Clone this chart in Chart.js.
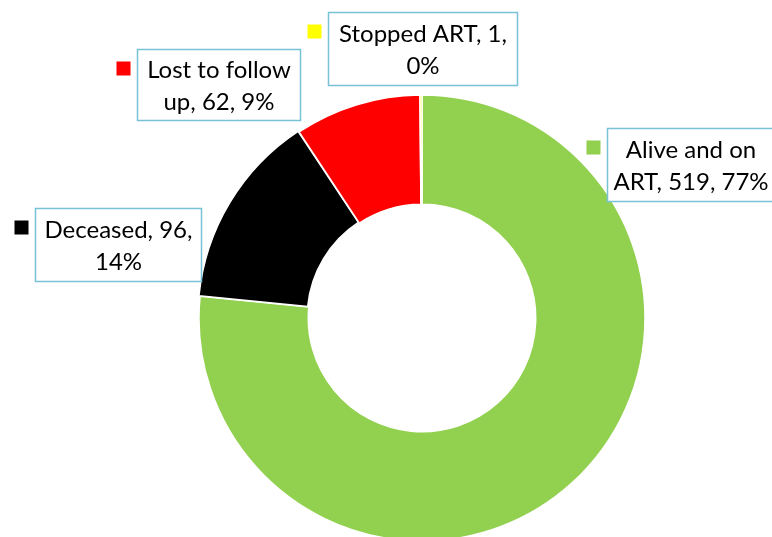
<!DOCTYPE html>
<html>
<head>
<meta charset="utf-8">
<script src="https://cdn.jsdelivr.net/npm/chart.js@4/dist/chart.umd.min.js"></script>
<style>
  html, body { margin: 0; padding: 0; background: #fff; }
  canvas { display: block; }
</style>
</head>
<body>
<canvas id="artChart" width="772" height="537"></canvas>
<script>
// Data
const outcomeLabels = ['Alive and on ART', 'Deceased', 'Lost to follow up', 'Stopped ART'];
const outcomeCounts = [519, 96, 62, 1];
const outcomeColors = ['#92D050', '#000000', '#FF0000', '#FFFF00'];

// callout box placement (x, y, w, h) for each slice
const calloutBoxes = [
    { x: 607.5, y: 128.5, w: 167, h: 73 },
    { x: 35.5,  y: 208.5, w: 166, h: 73 },
    { x: 137.5, y: 49.5,  w: 163, h: 71 },
    { x: 328.5, y: 12.5,  w: 189, h: 73 }
];

const total = outcomeCounts.reduce((a, b) => a + b, 0);

// word wrap helper
function wrapText(ctx, text, maxWidth) {
    const words = text.split(' ');
    const lines = [];
    let line = '';
    words.forEach(w => {
        const test = line ? line + ' ' + w : w;
        if (ctx.measureText(test).width > maxWidth && line) {
            lines.push(line);
            line = w;
        } else {
            line = test;
        }
    });
    if (line) lines.push(line);
    return lines;
}

// draws the boxed data labels with their colour keys
const calloutPlugin = {
    id: 'callouts',
    afterDraw(chart) {
        const ctx = chart.ctx;
        ctx.save();
        ctx.font = '24px Lato';
        ctx.textAlign = 'center';
        ctx.textBaseline = 'alphabetic';
        outcomeLabels.forEach((label, i) => {
            const b = calloutBoxes[i];
            const pct = Math.round(outcomeCounts[i] / total * 100);
            const text = label + ', ' + outcomeCounts[i] + ', ' + pct + '%';

            ctx.fillStyle = '#ffffff';
            ctx.fillRect(b.x, b.y, b.w, b.h);
            ctx.strokeStyle = '#78C2D6';
            ctx.lineWidth = 1.5;
            ctx.strokeRect(b.x, b.y, b.w, b.h);

            // legend key
            ctx.fillStyle = outcomeColors[i];
            ctx.fillRect(b.x - 21, b.y + 12, 14, 14);

            const lines = wrapText(ctx, text, b.w - 10);
            ctx.fillStyle = '#000000';
            const lineH = 32;
            const startY = b.y + b.h / 2 - (lines.length - 1) * lineH / 2 + 9;
            lines.forEach((ln, k) => {
                ctx.fillText(ln, b.x + b.w / 2, startY + k * lineH);
            });
        });
        ctx.restore();
    }
};

const myChart = new Chart('artChart', {
    type: 'doughnut',
    data: {
        labels: outcomeLabels,
        datasets: [{
            data: outcomeCounts,
            backgroundColor: outcomeColors,
            borderColor: '#ffffff',
            borderWidth: 1.5,
            offset: [0, 4, 0, 0]
        }]
    },
    options: {
        responsive: false,
        animation: false,
        cutout: '51%',
        radius: 223,
        layout: {
            padding: { top: 100, bottom: 1, left: 200, right: 128 }
        },
        plugins: {
            legend: { display: false },
            tooltip: { enabled: false }
        }
    },
    plugins: [calloutPlugin]
});
</script>
</body>
</html>
